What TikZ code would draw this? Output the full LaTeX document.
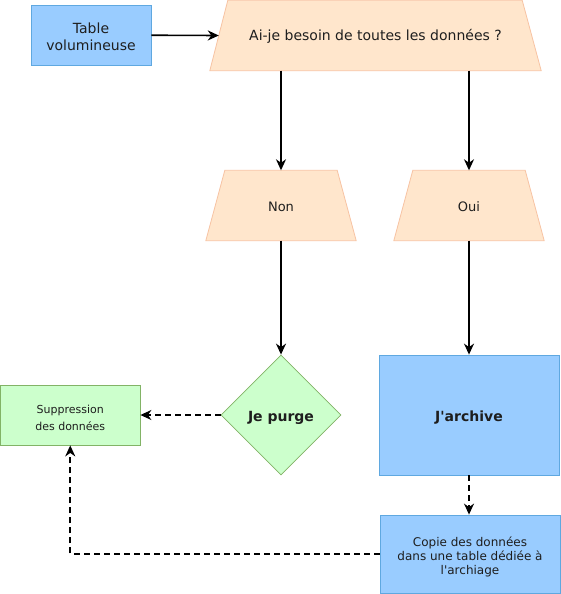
\documentclass[tikz,border=0pt]{standalone}
\usepackage{fontspec}
\setmainfont{DejaVu Sans}
\usetikzlibrary{shapes.geometric, arrows.meta}
\pgfdeclarelayer{bg}
\pgfsetlayers{bg,main}
\definecolor{bluefill}{HTML}{99CCFF}
\definecolor{bluedraw}{HTML}{5FA8E0}
\definecolor{orfill}{HTML}{FFE6CC}
\definecolor{ordraw}{HTML}{F7C3A3}
\definecolor{grfill}{HTML}{CCFFCC}
\definecolor{grdraw}{HTML}{82B366}
\definecolor{txtc}{HTML}{1E1E1E}
\begin{document}
\begin{tikzpicture}[x=1pt,y=-1pt,
  every node/.style={text=txtc, align=center, inner sep=0pt, font=\fontsize{14}{17}\selectfont},
  bluebox/.style={rectangle, draw=bluedraw, fill=bluefill, line width=0.8pt},
  greenbox/.style={draw=grdraw, fill=grfill, line width=0.8pt},
  orshape/.style={draw=ordraw, fill=orfill, line width=0.8pt},
  ortext/.style={rectangle, minimum height=70},
  boldtext/.style={font=\bfseries\fontsize{14}{17}\selectfont},
  arr/.style={-{Stealth[length=11pt,width=10pt,inset=3.5pt]}, line width=1.6pt},
  darr/.style={arr, dash pattern=on 6pt off 4pt},
]
\useasboundingbox (0,0) rectangle (561,594);
% shapes
\node[bluebox, minimum width=120, minimum height=60] (tbl) at (91,35) {};
\node[ortext, minimum width=331] (q) at (375.5,35.5) {};
\node[ortext, minimum width=150] (non) at (281,205.5) {};
\node[ortext, minimum width=150] (oui) at (469,205.5) {};
\node[diamond, aspect=1, greenbox, minimum width=120, minimum height=120] (purge) at (281,415) {};
\node[bluebox, minimum width=180, minimum height=120] (arch) at (469,415) {};
\node[rectangle, greenbox, minimum width=139.5, minimum height=60] (supp) at (70.25,415) {};
\node[bluebox, minimum width=180, minimum height=78] (copie) at (470,554) {};

\begin{pgfonlayer}{bg}
\draw[orshape] ([xshift=18]q.north west) -- ([xshift=-19]q.north east) -- (q.south east) -- (q.south west) -- cycle;
\draw[orshape] ([xshift=19]non.north west) -- ([xshift=-19]non.north east) -- (non.south east) -- (non.south west) -- cycle;
\draw[orshape] ([xshift=19]oui.north west) -- ([xshift=-19]oui.north east) -- (oui.south east) -- (oui.south west) -- cycle;
\end{pgfonlayer}

% texts
\node (tblT) at ([yshift=-2pt]tbl.center) {Table\\volumineuse};
\node (qT) at ([yshift=-1pt]q.center) {Ai-je besoin de toutes les données ?};
\node[font=\fontsize{13}{16}\selectfont] (nonT) at ([yshift=-1pt]non.center) {Non};
\node[font=\fontsize{13}{16}\selectfont] (ouiT) at ([yshift=-1pt]oui.center) {Oui};
\node[boldtext] (purgeT) at ([yshift=-2.5pt]purge.center) {Je purge};
\node[boldtext] (archT) at ([yshift=-2.5pt]arch.center) {J\textquotesingle archive};
\node[font=\fontsize{11}{16.7}\selectfont] (suppT) at ([yshift=-3pt]supp.center) {Suppression\\des données};
\node[font=\fontsize{12}{14}\selectfont] (copieT) at ([yshift=-3pt]copie.center) {Copie des données\\dans une table dédiée à\\l\textquotesingle archiage};

% connectors
\draw[arr] (tbl) -- ([xshift=9]q.west);
\draw[arr] (q.south -| non.north) -- (non.north);
\draw[arr] (q.south -| oui.north) -- (oui.north);
\draw[arr] (non) -- (purge.north);
\draw[arr] (oui) -- (arch.north);
\draw[darr] (purge.west) -- (supp.east);
\draw[darr] (arch.south) -- (arch.south |- copie.north);
\draw[darr] (copie.west) -| (supp.south);
\end{tikzpicture}
\end{document}
